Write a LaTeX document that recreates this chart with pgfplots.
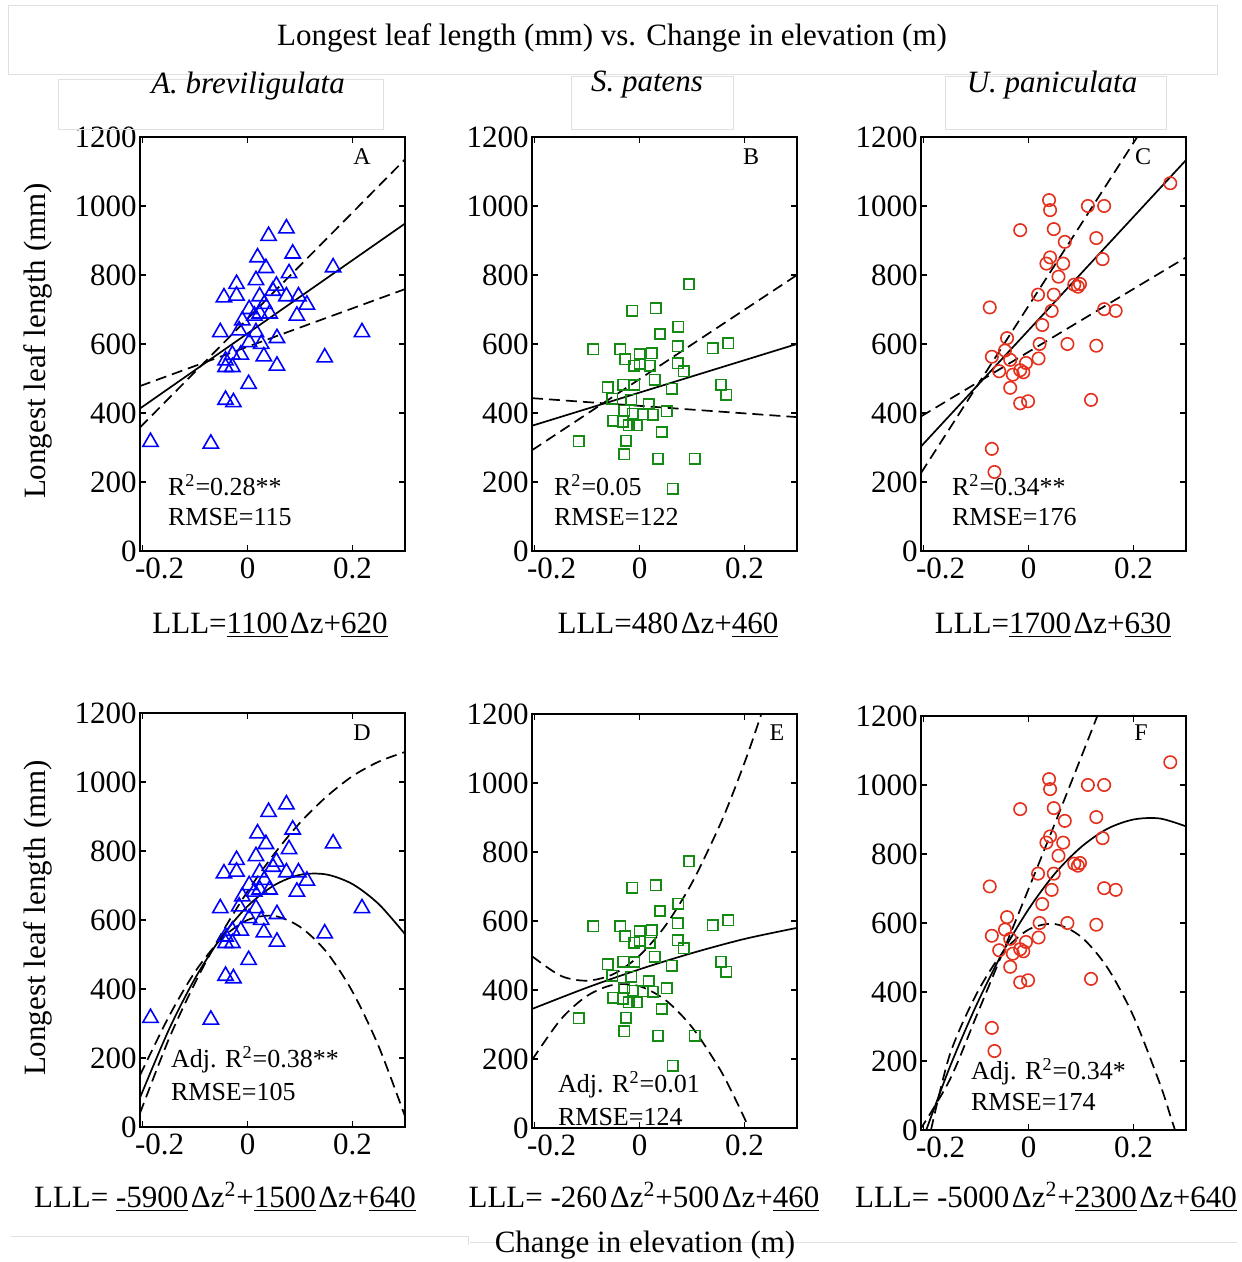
\documentclass[border=0pt]{standalone}
\usepackage{fontspec}
\setmainfont{Liberation Serif}
\usepackage{pgfplots}
\pgfplotsset{compat=1.18}
\usepackage{pgfplotstable}

\definecolor{mblue}{RGB}{0,0,255}
\definecolor{mgreen}{RGB}{20,140,20}
\definecolor{mred}{RGB}{228,48,28}
\newcommand\bigf{\fontsize{15.5}{18}\selectfont}
\newcommand\annf{\fontsize{13}{15}\selectfont}
\newcommand\letf{\fontsize{12}{14}\selectfont}
\newcommand\dz{\kern1.2pt Δz}

\pgfplotstableread{
x y
-0.185 316
-0.070 311
0.074 935
0.040 913
0.019 851
0.086 862
0.035 820
0.163 822
0.079 805
0.016 785
-0.021 774
0.055 769
-0.045 735
-0.021 740
0.023 738
0.048 754
0.074 738
0.097 738
0.113 714
0.094 682
0.003 701
0.032 716
0.013 682
-0.010 668
0.023 688
0.042 688
-0.052 634
0.218 634
-0.016 639
0.016 634
0.056 617
0.003 605
0.026 600
-0.029 569
-0.013 569
-0.042 552
-0.029 533
-0.042 533
0.031 564
0.147 561
0.056 537
0.002 484
-0.042 438
-0.027 431
}\dataA

\pgfplotstableread{
x y
0.094 773
-0.014 696
0.031 704
0.074 650
0.039 629
-0.088 585
-0.037 585
0.000 571
0.023 573
0.073 593
0.139 588
0.169 602
-0.027 556
-0.010 537
0.000 542
0.019 537
0.073 544
0.084 521
-0.061 475
-0.031 482
-0.010 481
0.029 496
0.061 470
0.155 482
0.165 453
-0.052 441
-0.016 438
0.017 426
0.052 405
-0.029 407
-0.013 398
0.006 396
0.025 395
-0.050 378
-0.032 375
-0.021 364
-0.005 364
0.042 345
-0.116 318
-0.026 320
-0.029 280
0.035 267
0.105 267
0.063 181
}\dataB

\pgfplotstableread{
x y
0.270 1066
0.039 1017
0.041 988
0.113 1000
0.144 1000
-0.016 930
0.048 933
0.069 896
0.129 907
0.041 851
0.034 833
0.066 833
0.141 846
0.057 795
0.087 772
0.098 774
0.094 766
0.018 743
0.048 743
-0.074 706
0.144 701
0.166 696
0.044 696
0.026 655
-0.041 617
0.021 600
0.074 600
0.129 595
-0.070 563
-0.045 581
-0.035 554
0.019 558
-0.005 545
-0.056 521
-0.030 511
-0.016 524
-0.010 518
-0.035 473
-0.016 428
-0.001 434
0.119 438
-0.070 296
-0.065 229
}\dataC

\pgfplotsset{
  panel/.style={
    anchor=south west, scale only axis, width=132.5pt, height=207pt,
    xmin=-0.205, xmax=0.3, ymin=0, ymax=1200,
    xtick={-0.2,0,0.2}, xticklabels={{\hspace*{17pt}-0.2},0,0.2},
    ytick={0,200,400,600,800,1000,1200},
    yticklabels={0,200,400,600,800,1000,1200},
    tick align=inside, major tick length=3pt,
    axis line style={line width=0.9pt},
    every tick/.style={black, line width=0.6pt},
    tick label style={font=\bigf},
    yticklabel style={inner sep=1.5pt},
    xticklabel style={inner sep=3pt},
  },
  fitsolid/.style={black, line width=0.85pt, no marks},
  fitdash/.style={black, line width=0.85pt, no marks, dash pattern=on 5.5pt off 3pt},
  triA/.style={only marks, mark=triangle, mark size=4.4pt, mblue, line width=0.8pt},
  sqB/.style={only marks, mark=square, mark size=2.6pt, mgreen, line width=0.8pt},
  ciC/.style={only marks, mark=o, mark size=3.1pt, mred, line width=0.8pt},
}

\begin{document}
\begin{tikzpicture}
\useasboundingbox (0,0) rectangle (620.5pt,631pt);

% ---------------- Panel A
\begin{axis}[panel, at={(70pt,355.5pt)}]
\addplot[triA] table {\dataA};
\addplot[fitsolid] coordinates {(-0.205,413) (0.3,949)};
\addplot[fitdash] coordinates {(-0.205,358) (0.3,1135)};
\addplot[fitdash] coordinates {(-0.205,478) (0.3,759)};
\end{axis}

% ---------------- Panel B
\begin{axis}[panel, at={(266pt,355.5pt)}]
\addplot[sqB] table {\dataB};
\addplot[fitsolid] coordinates {(-0.205,363) (0.3,600)};
\addplot[fitdash] coordinates {(-0.205,292) (0.3,800)};
\addplot[fitdash] coordinates {(-0.205,443) (0.3,388)};
\end{axis}

% ---------------- Panel C
\begin{axis}[panel, at={(460.5pt,355.5pt)}]
\addplot[ciC] table {\dataC};
\addplot[fitsolid] coordinates {(-0.205,303) (0.3,1133)};
\addplot[fitdash] coordinates {(-0.205,226) (0.207,1200)};
\addplot[fitdash] coordinates {(-0.205,390) (0.3,851)};
\end{axis}

% ---------------- Panel D
\begin{axis}[panel, at={(70pt,67.5pt)}]
\addplot[triA] table {\dataA};
\addplot[fitsolid, smooth] coordinates {(-0.205,85) (-0.15,282) (-0.1,431) (-0.05,550) (0,640) (0.05,700) (0.1,731) (0.15,732) (0.2,704) (0.25,646) (0.3,559)};
\addplot[fitdash, smooth] coordinates {(-0.205,40) (-0.15,255) (-0.1,418) (-0.05,560) (0,683) (0.05,790) (0.1,882) (0.15,957) (0.2,1017) (0.25,1059) (0.3,1087)};
\addplot[fitdash, smooth] coordinates {(-0.205,150) (-0.15,320) (-0.1,450) (-0.05,545) (0,600) (0.05,612) (0.1,580) (0.15,508) (0.2,392) (0.25,233) (0.3,31)};
\end{axis}

% ---------------- Panel E
\begin{axis}[panel, at={(266pt,67pt)}]
\addplot[sqB] table {\dataB};
\addplot[fitsolid, smooth] coordinates {(-0.205,345) (-0.1,407) (0,460) (0.1,507) (0.2,548) (0.3,580)};
\addplot[fitdash, smooth] coordinates {(-0.205,498) (-0.15,441) (-0.1,427) (-0.05,446) (0,500) (0.05,588) (0.1,711) (0.15,868) (0.175,959) (0.2,1059) (0.215,1123) (0.232,1200)};
\addplot[fitdash, smooth] coordinates {(-0.205,197) (-0.15,315) (-0.1,383) (-0.05,415) (0,411) (0.05,370) (0.1,292) (0.15,178) (0.175,107) (0.2,28) (0.208,0)};
\end{axis}

% ---------------- Panel F
\begin{axis}[panel, at={(460.5pt,66pt)}]
\addplot[ciC] table {\dataC};
\addplot[fitsolid, smooth] coordinates {(-0.195,0) (-0.15,183) (-0.1,360) (-0.05,513) (0,640) (0.05,743) (0.1,820) (0.15,873) (0.2,900) (0.25,903) (0.3,880)};
\addplot[fitdash, smooth] coordinates {(-0.207,0) (-0.15,146) (-0.1,328) (-0.05,512) (0,699) (0.05,888) (0.1,1080) (0.131,1200)};
\addplot[fitdash, smooth] coordinates {(-0.186,0) (-0.15,219) (-0.1,392) (-0.05,513) (0,581) (0.05,597) (0.1,560) (0.15,471) (0.2,329) (0.25,135) (0.27,42) (0.279,0)};
\end{axis}

\begin{scope}[x=0.5pt, y=-0.5pt, yshift=631pt]
% faint frames
\begin{scope}[draw=black!12, line width=0.5pt]
\draw (8,6) rectangle (1217,75);
\draw (58,80) rectangle (383,130);
\draw (571,77) rectangle (733,130);
\draw (945,77) rectangle (1166,130);
\draw (11,1237) -- (468,1237) -- (468,1245);
\draw (470,1243) -- (1237,1243);
\end{scope}
% titles
\node[font=\bigf] at (612,38) {Longest leaf length (mm) vs. Change in elevation (m)};
\node[font=\bigf] at (248,86) {\textit{A. breviligulata}};
\node[font=\bigf] at (647,85) {\textit{S. patens}};
\node[font=\bigf] at (1052,85) {\textit{U. paniculata}};
\node[font=\bigf, rotate=90] at (38,341) {Longest leaf length (mm)};
\node[font=\bigf, rotate=90] at (38,918) {Longest leaf length (mm)};
\node[font=\bigf] at (645,1245) {Change in elevation (m)};
% panel letters
\node[font=\letf] at (362,157) {A};
\node[font=\letf] at (751,157) {B};
\node[font=\letf] at (1143,157) {C};
\node[font=\letf] at (362,733) {D};
\node[font=\letf] at (777,733) {E};
\node[font=\letf] at (1141,733) {F};
% statistics
\node[font=\annf, anchor=west] at (161,485) {R\textsuperscript{2}=0.28**};
\node[font=\annf, anchor=west] at (161,517) {RMSE=115};
\node[font=\annf, anchor=west] at (547,485) {R\textsuperscript{2}=0.05};
\node[font=\annf, anchor=west] at (547,517) {RMSE=122};
\node[font=\annf, anchor=west] at (945,485) {R\textsuperscript{2}=0.34**};
\node[font=\annf, anchor=west] at (945,517) {RMSE=176};
\node[font=\annf, anchor=west] at (164,1060) {Adj. R\textsuperscript{2}=0.38**};
\node[font=\annf, anchor=west] at (164,1092) {RMSE=105};
\node[font=\annf, anchor=west] at (551,1085) {Adj. R\textsuperscript{2}=0.01};
\node[font=\annf, anchor=west] at (551,1117) {RMSE=124};
\node[font=\annf, anchor=west] at (964,1072) {Adj. R\textsuperscript{2}=0.34*};
\node[font=\annf, anchor=west] at (964,1102) {RMSE=174};
% equations
\node[font=\bigf] at (270,625) {LLL=\underline{1100}\dz+\underline{620}};
\node[font=\bigf] at (668,625) {LLL=480\dz+\underline{460}};
\node[font=\bigf] at (1053,625) {LLL=\underline{1700}\dz+\underline{630}};
\node[font=\bigf] at (225,1197) {LLL= \underline{-5900}\dz\textsuperscript{2}+\underline{1500}\dz+\underline{640}};
\node[font=\bigf] at (644,1197) {LLL= -260\dz\textsuperscript{2}+500\dz+\underline{460}};
\node[font=\bigf] at (1046,1197) {LLL= -5000\dz\textsuperscript{2}+\underline{2300}\dz+\underline{640}};
\end{scope}
\end{tikzpicture}
\end{document}
